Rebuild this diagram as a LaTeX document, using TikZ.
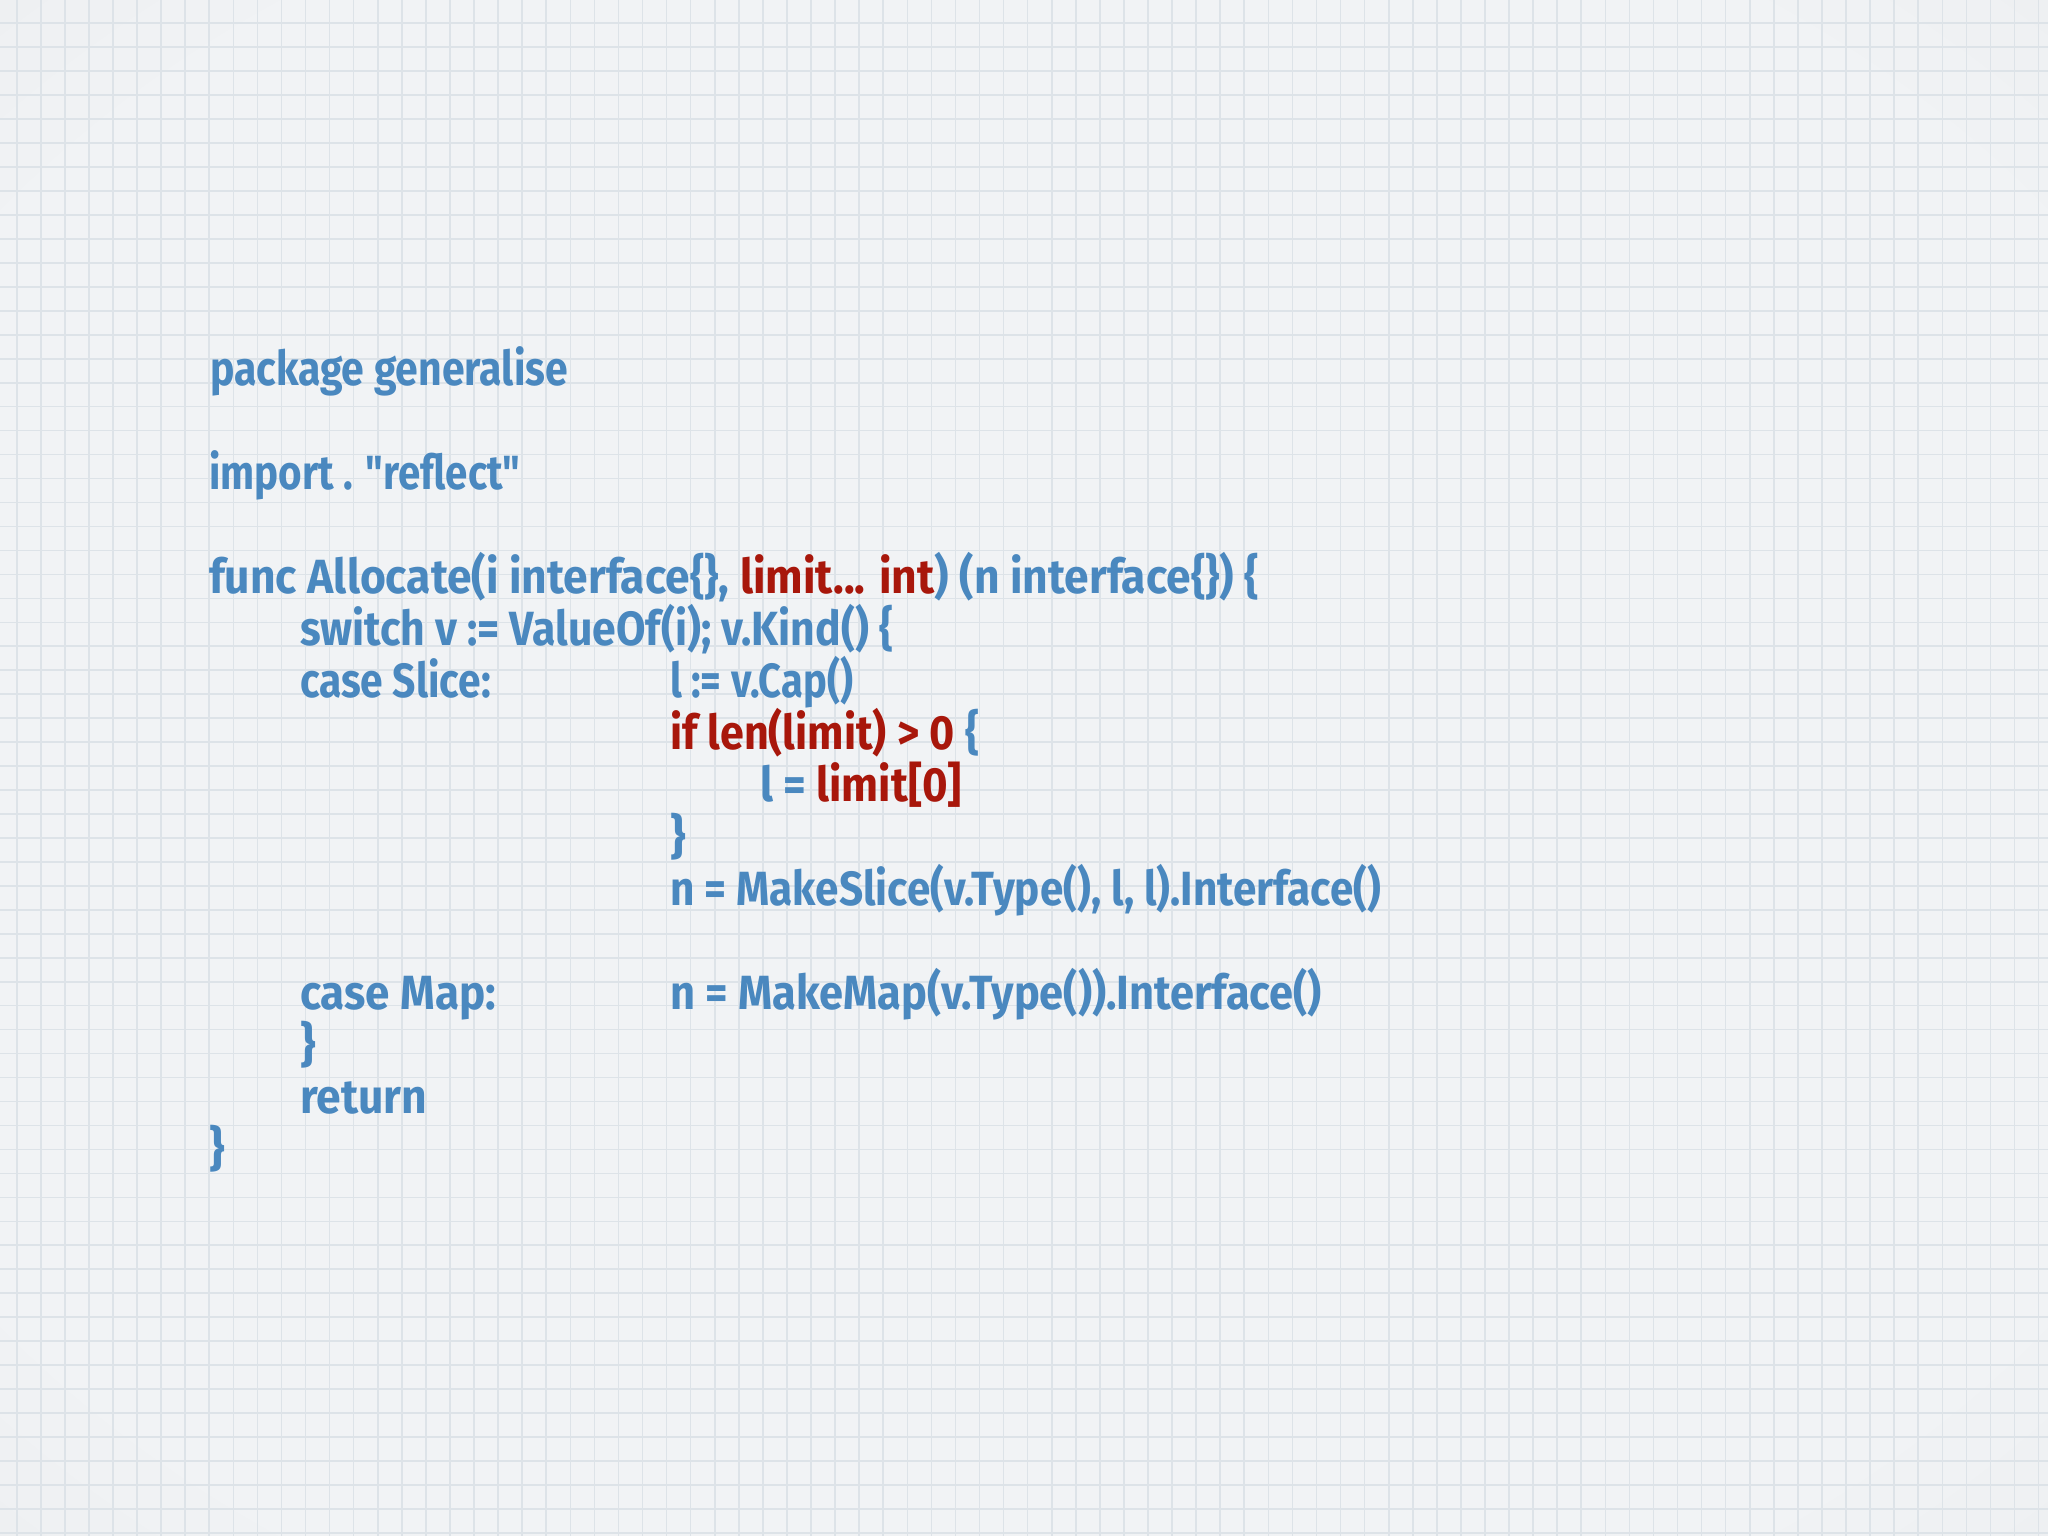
\documentclass[tikz,border=0pt]{standalone}
\usepackage{fontspec}
\usepackage{graphicx}
\setmainfont{Fira Sans}[Ligatures=TeXOff]
\definecolor{bgA}{HTML}{F1F3F5}
\definecolor{bgB}{HTML}{E6E8EA}
\definecolor{gridc}{HTML}{DDE3E8}
\definecolor{codeblue}{HTML}{4A88BF}
\definecolor{codered}{HTML}{A8170B}
\pgfdeclareradialshading{vignette}{\pgfpoint{0bp}{0bp}}{color(0bp)=(bgA); color(30bp)=(bgA); color(50bp)=(bgB)}
\newcommand\fitw[2]{\resizebox{#1pt}{\height}{#2}}
\newcommand\rd[1]{\textcolor{codered}{#1}}
\tikzset{
  gridline/.style={draw=gridc, line width=1.6pt},
  codeline/.style={anchor=base west, inner sep=0pt, outer sep=0pt, text=codeblue,
    font=\fontsize{48}{52}\selectfont\bfseries},
}
\begin{document}
\begin{tikzpicture}[x=1pt,y=-1pt]
\useasboundingbox (0,0) rectangle (2048,1536);
\shade[shading=vignette] (0,0) rectangle (2048,1536);
\foreach \k in {0,...,84} \draw[gridline] ({16.7+24.07*\k},0) -- ++(0,1536);
\foreach \k in {0,...,63} \draw[gridline] (0,{23.3+23.96*\k}) -- ++(2048,0);

\node[codeline] (pkg) at (210,385) {\fitw{358}{package generalise}};
\node[codeline] (imp) at (209,489) {\fitw{311}{import . "reflect"}};
\node[codeline] (func) at (209,593) {\fitw{1050}{func Allocate(i interface\{\}, \rd{limit... int}) (n interface\{\}) \{}};
\node[codeline] (sw) at (300,645) {\fitw{593}{switch v := ValueOf(i); v.Kind() \{}};
\node[codeline] (cs) at (300,697) {\fitw{191}{case Slice:}};
\node[codeline] (cap) at (670,697) {\fitw{183}{l := v.Cap()}};
\node[codeline] (iff) at (670,749) {\fitw{309}{\rd{if len(limit) > 0} \{}};
\node[codeline] (lim) at (760,801) {\fitw{202}{l = \rd{limit[0]}}};
\node[codeline] (rbA) at (670,853) {\}};
\node[codeline] (ms) at (670,905) {\fitw{711}{n = MakeSlice(v.Type(), l, l).Interface()}};
\node[codeline] (cm) at (300,1009) {\fitw{196}{case Map:}};
\node[codeline] (mm) at (670,1009) {\fitw{652}{n = MakeMap(v.Type()).Interface()}};
\node[codeline] (rbB) at (300,1061) {\}};
\node[codeline] (ret) at (300,1113) {\fitw{127}{return}};
\node[codeline] (rbC) at (209,1165) {\}};
\end{tikzpicture}
\end{document}
